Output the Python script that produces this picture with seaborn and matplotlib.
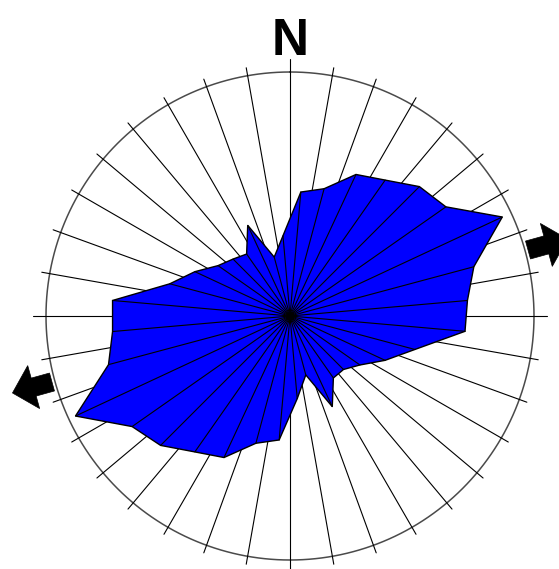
import numpy as np
import matplotlib
matplotlib.use("Agg")
import matplotlib.pyplot as plt
import seaborn as sns
from matplotlib.patches import Polygon

sns.set_style("white")

# Rose diagram: 36 bins of 10 degrees, radius per bin (outer circle = 10)
bin_centers_deg = np.arange(5, 360, 10)
bin_radius = [5.1, 5.4, 6.4, 6.8, 7.5, 7.8, 9.6, 7.8, 7.3,
              7.2, 5.3, 4.3, 3.5, 3.1, 3.1, 4.1, 2.5, 3.4,
              5.1, 5.4, 6.4, 6.8, 7.5, 7.9, 9.7, 7.7, 7.3,
              7.3, 5.1, 4.3, 3.6, 3.3, 3.1, 4.1, 2.5, 3.3]
grid_radius = 10.0
grid_step_deg = 10
mean_direction_deg = 74.5

W, H, DPI = 559, 569, 100
fig = plt.figure(figsize=(W / DPI, H / DPI), dpi=DPI)

px_per_unit = 24.4
r_axes = 11.0
cx, cy = 290.0, 316.0
half = r_axes * px_per_unit
ax = fig.add_axes([(cx - half) / W, (H - cy - half) / H, 2 * half / W, 2 * half / H],
                  projection="polar")
ax.set_theta_zero_location("N")
ax.set_theta_direction(-1)
ax.set_ylim(0, r_axes)
ax.axis("off")

# outer circle
th = np.linspace(0, 2 * np.pi, 721)
ax.plot(th, np.full_like(th, grid_radius), color="#4a4a4a", lw=1.1, zorder=1)

# radial grid spokes (cardinal ones run a little longer)
for a in range(0, 360, grid_step_deg):
    length = 10.53 if a % 90 == 0 else 10.33
    t = np.deg2rad(a)
    ax.plot([t, t], [0, length], color="black", lw=0.8, zorder=1)

# petal polygon
theta = np.deg2rad(bin_centers_deg)
ax.fill(theta, bin_radius, facecolor="#0000ff", edgecolor="black", lw=1.0, zorder=2)
for t, r in zip(theta, bin_radius):
    ax.plot([t, t], [0, r], color="black", lw=0.8, zorder=3)
ax.plot([0], [0], marker="o", ms=5, color="black", zorder=4)


def block_arrow(az_deg):
    a = np.deg2rad(az_deg)
    tail, base, tip = 247.0, 266.0, 288.0
    shaft, head = 9.3, 22.3
    pts = [(tail, -shaft), (base, -shaft), (base, -head), (tip, 0.0),
           (base, head), (base, shaft), (tail, shaft)]
    verts = []
    for s, w in pts:
        e = s * np.sin(a) + w * np.cos(a)
        n = s * np.cos(a) - w * np.sin(a)
        verts.append((np.arctan2(e, n), np.hypot(e, n) / px_per_unit))
    return Polygon(verts, closed=True, transform=ax.transData,
                   facecolor="black", edgecolor="black", lw=0.5, clip_on=False, zorder=5)


for az in (mean_direction_deg, mean_direction_deg + 180):
    ax.add_patch(block_arrow(az))

fig.text(290.5 / W, 1 - 55 / H, "N", ha="center", va="baseline", color="black",
         fontsize=37, fontweight="bold", family=["Liberation Sans", "DejaVu Sans"])

fig.savefig("out.png", dpi=DPI)
